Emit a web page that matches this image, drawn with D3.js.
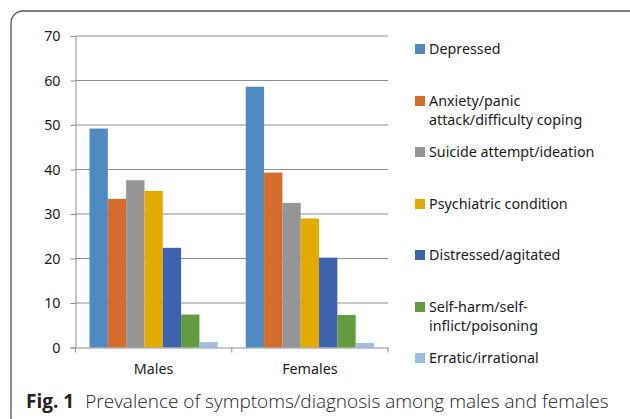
<!DOCTYPE html>
<html>
<head>
<meta charset="utf-8">
<script src="https://cdn.jsdelivr.net/npm/d3@7"></script>
<style>
  body { margin: 0; background: #fff; }
  svg { display: block; }
</style>
</head>
<body>
<svg id="chart" width="630" height="419"></svg>
<script>
// data (%)
const groups = ['Males', 'Females'];
const series = [
  'Depressed',
  'Anxiety/panic attack/difficulty coping',
  'Suicide attempt/ideation',
  'Psychiatric condition',
  'Distressed/agitated',
  'Self-harm/self-inflict/poisoning',
  'Erratic/irrational'
];
const legendLines = [
  ['Depressed'],
  ['Anxiety/panic', 'attack/difficulty coping'],
  ['Suicide attempt/ideation'],
  ['Psychiatric condition'],
  ['Distressed/agitated'],
  ['Self-harm/self-', 'inflict/poisoning'],
  ['Erratic/irrational']
];
const males = [49.2, 33.4, 37.6, 35.2, 22.4, 7.4, 1.2];
const females = [58.6, 39.3, 32.5, 29.0, 20.2, 7.3, 1.0];
const yTicks = [0, 10, 20, 30, 40, 50, 60, 70];
const colors = ['#4f89bf', '#d46d2c', '#959595', '#e3ab00', '#3d63ae', '#629b40', '#9ebde3'];

const values = { Males: males, Females: females };

const svg = d3.select('#chart');
const fontChart = '"Noto Sans", Lato, sans-serif';
const fsChart = 14.3;

// frame
svg.append('rect')
  .attr('x', 11).attr('y', 11)
  .attr('width', 640).attr('height', 430)
  .attr('rx', 12)
  .attr('fill', 'none')
  .attr('stroke', '#555')
  .attr('stroke-width', 1.3);

const plotL = 75.5, plotR = 388, plotT = 36, plotB = 347.5;

const x = d3.scaleBand().domain(groups).range([plotL, plotR]).padding(0);
const xs = d3.scaleBand().domain(series)
  .range([14, x.bandwidth() - 14]).padding(0);
const y = d3.scaleLinear().domain([0, 70]).range([plotB, plotT]);

// gridlines
svg.append('g')
  .selectAll('line')
  .data(yTicks.filter(d => d > 0))
  .join('line')
  .attr('x1', plotL).attr('x2', plotR)
  .attr('y1', d => y(d)).attr('y2', d => y(d))
  .attr('stroke', '#8e8e8e')
  .attr('stroke-width', 1);

// bars
const g = svg.append('g')
  .selectAll('g')
  .data(groups)
  .join('g')
  .attr('transform', d => `translate(${x(d)},0)`);

g.selectAll('rect')
  .data(grp => values[grp].map((v, i) => ({ key: series[i], v, i })))
  .join('rect')
  .attr('x', d => xs(d.key))
  .attr('width', xs.bandwidth())
  .attr('y', d => y(d.v))
  .attr('height', d => y(0) - y(d.v))
  .attr('fill', d => colors[d.i]);

// y axis
const yAxis = svg.append('g')
  .attr('transform', `translate(${plotL},0)`)
  .call(d3.axisLeft(y).tickValues(yTicks).tickSize(5).tickPadding(10));
yAxis.select('.domain').attr('stroke', '#8e8e8e');
yAxis.selectAll('.tick line').attr('stroke', '#8e8e8e');
yAxis.selectAll('text')
  .attr('font-family', fontChart)
  .attr('font-size', fsChart)
  .attr('fill', '#1a1a1a');

// x axis
const xAxis = svg.append('g')
  .attr('transform', `translate(0,${plotB})`)
  .call(d3.axisBottom(x).tickSize(0).tickPadding(16));
xAxis.select('.domain').attr('stroke', '#8e8e8e');
xAxis.selectAll('text')
  .attr('font-family', fontChart)
  .attr('font-size', fsChart)
  .attr('fill', '#1a1a1a');
// category separators
xAxis.selectAll('line.sep')
  .data([plotL, plotL + x.bandwidth(), plotR])
  .join('line')
  .attr('class', 'sep')
  .attr('x1', d => d).attr('x2', d => d)
  .attr('y1', 0).attr('y2', 5)
  .attr('stroke', '#8e8e8e');

// legend
const legendY = [49, 101, 152, 204, 255, 307, 358];
const lg = svg.append('g')
  .selectAll('g')
  .data(series)
  .join('g')
  .attr('transform', (d, i) => `translate(415,${legendY[i]})`);
lg.append('rect')
  .attr('x', 0).attr('y', -5)
  .attr('width', 10).attr('height', 10)
  .attr('fill', (d, i) => colors[i]);
lg.each(function (d, i) {
  const t = d3.select(this).append('text')
    .attr('x', 14)
    .attr('font-family', fontChart)
    .attr('font-size', fsChart)
    .attr('fill', '#1a1a1a');
  legendLines[i].forEach((line, j) => {
    t.append('tspan')
      .attr('x', 14)
      .attr('y', j * 19)
      .attr('dy', '0.35em')
      .text(line);
  });
});

// caption
const cap = svg.append('text')
  .attr('x', 26).attr('y', 408)
  .attr('font-family', '"Open Sans", "Noto Sans", sans-serif')
  .attr('font-size', 19)
  .attr('fill', '#222');
cap.append('tspan').attr('font-weight', 'bold').text('Fig. 1');
cap.append('tspan').attr('dx', 11).attr('font-weight', 300)
  .text('Prevalence of symptoms/diagnosis among males and females');
</script>
</body>
</html>
